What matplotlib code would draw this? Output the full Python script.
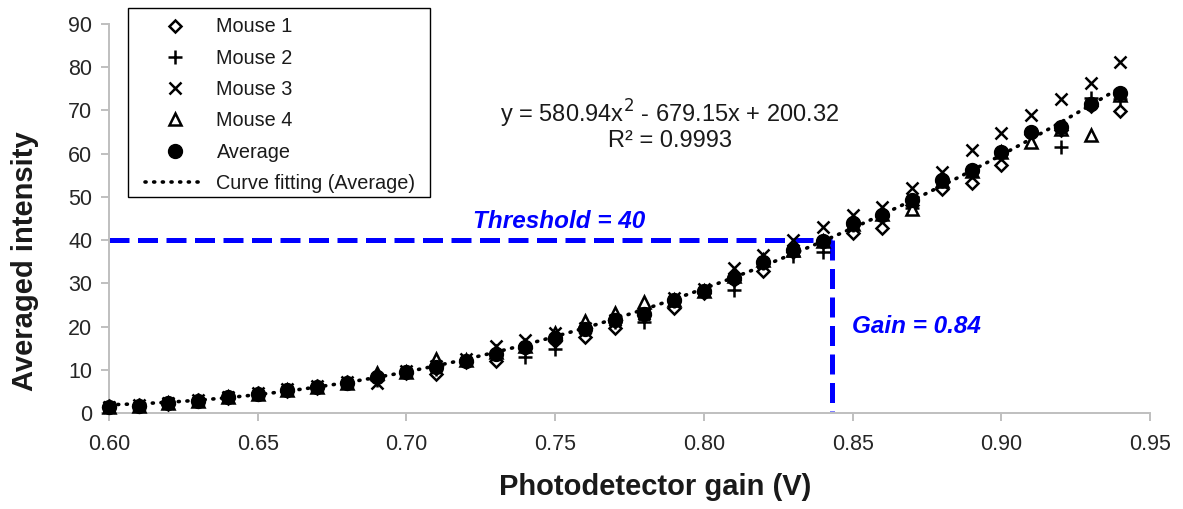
from matplotlib import pyplot as plt
from matplotlib.lines import Line2D
from matplotlib.patches import Rectangle
import numpy as np

plt.rcParams['font.family'] = ['Liberation Sans', 'DejaVu Sans']

# Photodetector gain (V) and intensities
gain = [0.60, 0.61, 0.62, 0.63, 0.64, 0.65, 0.66, 0.67, 0.68, 0.69,
        0.70, 0.71, 0.72, 0.73, 0.74, 0.75, 0.76, 0.77, 0.78, 0.79,
        0.80, 0.81, 0.82, 0.83, 0.84, 0.85, 0.86, 0.87, 0.88, 0.89,
        0.90, 0.91, 0.92, 0.93, 0.94]
mouse1 = [1.4, 1.7, 2.2, 2.8, 3.6, 4.4, 5.1, 5.9, 6.9, 8.2,
          9.2, 9.0, 11.8, 12.0, 15.0, 16.8, 17.7, 19.6, 22.6, 24.4,
          27.8, 30.8, 32.8, 37.2, 39.6, 41.6, 42.8, 48.0, 51.8, 53.2,
          57.3, 64.5, 65.5, 71.0, 69.7]
mouse2 = [1.6, 1.9, 2.4, 3.0, 3.8, 4.6, 5.4, 6.2, 7.2, 7.6,
          9.6, 10.2, 12.0, 13.6, 13.1, 14.8, 19.4, 21.2, 21.2, 26.0,
          28.0, 28.5, 34.6, 36.4, 37.3, 43.6, 45.6, 47.4, 53.6, 55.8,
          59.8, 64.6, 61.4, 72.9, 72.5]
mouse3 = [1.5, 1.9, 2.4, 3.0, 3.8, 4.6, 5.5, 6.3, 7.3, 7.0,
          9.8, 11.0, 12.6, 15.6, 16.9, 18.6, 19.8, 21.6, 23.0, 26.6,
          28.6, 33.5, 36.6, 40.0, 43.0, 45.8, 47.7, 52.0, 55.8, 60.8,
          64.8, 68.9, 72.5, 76.2, 81.2]
mouse4 = [1.5, 1.8, 2.3, 2.9, 3.7, 4.5, 5.3, 6.1, 7.1, 9.4,
          9.6, 12.6, 12.2, 14.2, 15.6, 18.6, 21.4, 23.2, 25.8, 26.2,
          28.2, 31.6, 35.4, 37.6, 39.8, 43.8, 46.0, 47.2, 53.6, 56.0,
          60.4, 62.6, 65.6, 64.3, 73.6]
average = [1.5, 1.8, 2.3, 2.9, 3.7, 4.5, 5.3, 6.1, 7.1, 8.4,
           9.5, 10.6, 12.1, 13.8, 15.4, 17.3, 19.5, 21.5, 23.0, 26.2,
           28.2, 31.2, 35.0, 37.7, 39.8, 43.9, 45.8, 49.3, 53.9, 56.2,
           60.4, 65.0, 66.1, 71.4, 74.0]

# Quadratic trend line (coefficients as printed on the chart)
fit_coeffs = [580.94, -679.15, 200.32]
threshold = 40
gain_at_threshold = 0.843

xticks = [0.60, 0.65, 0.70, 0.75, 0.80, 0.85, 0.90, 0.95]
xtick_labels = ['0.60', '0.65', '0.70', '0.75', '0.80', '0.85', '0.90', '0.95']
yticks = [0, 10, 20, 30, 40, 50, 60, 70, 80, 90]

W, H = 1183, 509
fig = plt.figure(figsize=(W / 100, H / 100), dpi=100)
ax = fig.add_axes([109 / W, 1 - 413.3 / H, (1150 - 109) / W, (413.3 - 23.6) / H])

# Marker styles shared by plot and legend
styles = [
    dict(marker='D', ms=6.5, mfc='white', mec='black', mew=1.8),
    dict(marker='+', ms=10, mec='black', mew=1.8),
    dict(marker='x', ms=8.5, mec='black', mew=1.8),
    dict(marker='^', ms=8.5, mfc='white', mec='black', mew=1.8),
    dict(marker='o', ms=10, mfc='black', mec='black'),
]
series = [mouse1, mouse2, mouse3, mouse4, average]
for vals, st in zip(series, styles):
    ax.plot(gain, vals, linestyle='none', clip_on=False, zorder=3, **st)

# Curve fitting
xf = np.linspace(gain[0], gain[-1], 200)
dotted = (0, (0.3, 2.1))
ax.plot(xf, np.polyval(fit_coeffs, xf), color='black', lw=2.6,
        linestyle=dotted, dash_capstyle='round', zorder=4)

# Threshold / gain guide lines
blue = '#0000ff'
dash = (0, (4, 1.7))
ax.plot([0.60, gain_at_threshold], [threshold, threshold], color=blue, lw=3.6,
        linestyle=dash, zorder=2, clip_on=False)
ax.plot([gain_at_threshold, gain_at_threshold], [threshold, 0.4], color=blue, lw=3.6,
        linestyle=dash, zorder=2)
ax.text(0.7515, 44.2, 'Threshold = 40', color=blue, fontsize=17.5,
        fontweight='bold', fontstyle='italic', ha='center', va='center')
ax.text(0.8497, 20.0, 'Gain = 0.84', color=blue, fontsize=17.5,
        fontweight='bold', fontstyle='italic', ha='left', va='center')

# Equation text
ax.text(0.7886, 69.2, 'y = 580.94x$^{2}$ - 679.15x + 200.32', fontsize=17,
        ha='center', va='center', color='#1a1a1a')
ax.text(0.7886, 62.8, 'R² = 0.9993', fontsize=17, ha='center', va='center',
        color='#1a1a1a')

# Axes styling
ax.set_xlim(0.60, 0.95)
ax.set_ylim(0, 90)
ax.set_xticks(xticks)
ax.set_xticklabels(xtick_labels)
ax.set_yticks(yticks)
for s in ['top', 'right']:
    ax.spines[s].set_visible(False)
for s in ['left', 'bottom']:
    ax.spines[s].set_color('#bfbfbf')
    ax.spines[s].set_linewidth(1.4)
ax.tick_params(direction='out', length=6, width=1.4, color='#bfbfbf',
               labelsize=15.5, labelcolor='#262626')
ax.tick_params(axis='x', pad=9)
ax.tick_params(axis='y', pad=6)

fig.text(25 / W, 1 - 261 / H, 'Averaged intensity', rotation=90, fontsize=21,
         fontweight='bold', ha='center', va='center', color='#1a1a1a')
fig.text(655 / W, 1 - 487 / H, 'Photodetector gain (V)', fontsize=21,
         fontweight='bold', ha='center', va='center', color='#1a1a1a')

# Legend (frame drawn separately to match the box in the reference)
handles = [Line2D([], [], ls='none', **st) for st in styles]
handles.append(Line2D([], [], color='black', lw=2.6, linestyle=dotted,
                      dash_capstyle='round'))
labels = ['Mouse 1', 'Mouse 2', 'Mouse 3', 'Mouse 4', 'Average',
          'Curve fitting (Average)']
leg = fig.legend(handles, labels, loc='upper left',
                 bbox_to_anchor=(145 / W, 1 - 17.5 / H), borderaxespad=0,
                 fontsize=14.3, frameon=False, handlelength=3.0,
                 handletextpad=0.6, labelspacing=0.62, borderpad=0)
for t in leg.get_texts():
    t.set_color('#1a1a1a')
fig.patches.append(Rectangle((128 / W, 1 - 197 / H), 302 / W, 189 / H,
                             transform=fig.transFigure, fill=False,
                             edgecolor='black', linewidth=1.0))

fig.savefig('out.png', dpi=100)
